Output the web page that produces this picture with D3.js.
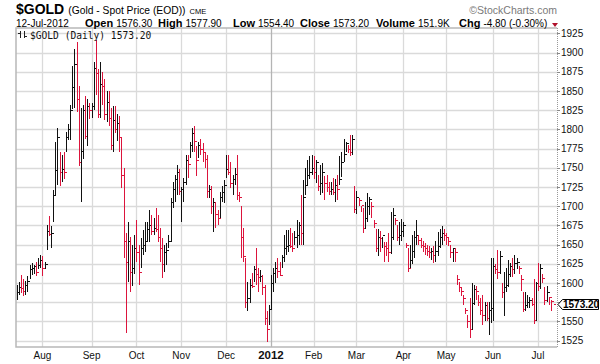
<!DOCTYPE html>
<html>
<head>
<meta charset="utf-8">
<script src="https://cdn.jsdelivr.net/npm/d3@7"></script>
<style>
  html, body { margin: 0; padding: 0; background: #fff; }
  svg { display: block; font-family: "Liberation Sans", Arial, sans-serif; }
</style>
</head>
<body>
<svg id="chart" width="600" height="364"></svg>
<script>
// trading days: weekdays between these dates, minus US market holidays
const startDate = "2011-07-14";
const endDate = "2012-07-12";
const holidays = ["2011-09-05", "2011-11-24", "2011-12-26", "2012-01-02", "2012-01-16",
  "2012-02-20", "2012-04-06", "2012-05-28", "2012-07-04"];

// daily high / low / close
const highs = [
  1597, 1601, 1610, 1605, 1603, 1609, 1624, 1626, 1623, 1628, 1632, 1637,           // Jul
  1635, 1628, 1676, 1687, 1674, 1721, 1784, 1802, 1771, 1767, 1771, 1797, 1807, 1832, // Aug
  1882, 1904, 1914, 1856, 1828, 1832, 1843, 1840, 1834,
  1834, 1888, 1916, 1878, 1888, 1875, 1866, 1850, 1850, 1828, 1830, 1830, 1820, 1817, // Sep
  1790, 1750, 1665, 1680, 1660, 1650, 1663,
  1682, 1650, 1659, 1669, 1680, 1680, 1695, 1689, 1685, 1698, 1689, 1672, 1659, 1650, // Oct
  1652, 1663, 1711, 1732, 1741, 1754, 1748,
  1725, 1737, 1767, 1767, 1784, 1802, 1804, 1778, 1784, 1788, 1782, 1771, 1767, 1728, // Nov
  1726, 1711, 1706, 1695, 1719, 1726, 1734,
  1767, 1767, 1758, 1741, 1750, 1767, 1719, 1700, 1672, 1633, 1602, 1605, 1613, 1622, // Dec
  1646, 1620, 1617, 1611, 1598, 1563, 1572,
  1610, 1620, 1628, 1633, 1628, 1637, 1663, 1669, 1669, 1672, 1665, 1668, 1682, 1680, // Jan
  1715, 1734, 1750, 1760, 1765, 1767,
  1765, 1760, 1741, 1754, 1756, 1739, 1741, 1732, 1732, 1737, 1735, 1741, 1765, 1771, // Feb
  1787, 1784, 1780, 1793, 1793,
  1726, 1720, 1711, 1700, 1698, 1705, 1717, 1712, 1706, 1682, 1670, 1670, 1668, 1660, // Mar
  1654, 1654, 1665, 1693, 1698, 1685, 1676, 1680,
  1684, 1680, 1652, 1645, 1650, 1663, 1668, 1682, 1663, 1659, 1655, 1652, 1650, 1648, // Apr
  1645, 1648, 1655, 1667, 1670, 1674,
  1670, 1665, 1658, 1650, 1646, 1645, 1611, 1602, 1595, 1585, 1567, 1559, 1580, 1600, // May
  1598, 1596, 1585, 1580, 1585, 1576, 1576, 1576,
  1632, 1632, 1625, 1643, 1642, 1600, 1614, 1620, 1630, 1626, 1632, 1637, 1632, 1622, // Jun
  1610, 1589, 1589, 1585, 1582, 1580, 1605,
  1602, 1626, 1625, 1612, 1595, 1596, 1582, 1577.9                                    // Jul
];
const lows = [
  1578, 1584, 1587, 1583, 1585, 1588, 1605, 1610, 1612, 1609, 1618, 1620,
  1609, 1618, 1643, 1661, 1645, 1680, 1715, 1728, 1726, 1732, 1735, 1770, 1786, 1786,
  1826, 1828, 1823, 1752, 1706, 1761, 1787, 1778, 1813,
  1815, 1825, 1845, 1815, 1815, 1832, 1812, 1810, 1805, 1773, 1770, 1795, 1785, 1771,
  1724, 1633, 1535, 1602, 1589, 1596, 1612,
  1628, 1598, 1620, 1637, 1641, 1654, 1654, 1663, 1663, 1667, 1654, 1628, 1607, 1615,
  1624, 1646, 1654, 1698, 1706, 1715, 1715,
  1680, 1706, 1728, 1737, 1763, 1771, 1770, 1739, 1763, 1767, 1758, 1750, 1711, 1711,
  1690, 1667, 1672, 1676, 1685, 1706, 1704,
  1737, 1740, 1724, 1715, 1728, 1708, 1706, 1633, 1628, 1568, 1563, 1574, 1594, 1602,
  1598, 1589, 1602, 1585, 1546, 1523, 1546,
  1565, 1589, 1600, 1607, 1609, 1620, 1628, 1637, 1640, 1646, 1640, 1650, 1645, 1650,
  1650, 1650, 1715, 1728, 1735, 1741,
  1735, 1730, 1720, 1715, 1717, 1708, 1719, 1715, 1715, 1715, 1706, 1708, 1728, 1738,
  1758, 1771, 1769, 1765, 1767, 1691,
  1690, 1700, 1693, 1665, 1670, 1680, 1689, 1685, 1672, 1640, 1635, 1640, 1646, 1628,
  1635, 1628, 1638, 1656, 1675, 1655, 1650, 1655,
  1660, 1645, 1615, 1620, 1625, 1633, 1650, 1650, 1646, 1640, 1637, 1635, 1633, 1630,
  1626, 1628, 1635, 1646, 1650, 1655,
  1650, 1648, 1633, 1628, 1628, 1598, 1589, 1583, 1572, 1560, 1541, 1528, 1539, 1572,
  1578, 1570, 1559, 1546, 1550, 1550, 1533, 1548,
  1550, 1612, 1605, 1612, 1580, 1557, 1588, 1595, 1608, 1608, 1612, 1618, 1612, 1590,
  1562, 1563, 1568, 1568, 1570, 1547, 1550,
  1590, 1592, 1600, 1572, 1575, 1572, 1563, 1554.4
];
const closes = [
  1588, 1595, 1593, 1590, 1598, 1603, 1618, 1620, 1622, 1615, 1624, 1630,
  1620, 1625, 1668, 1664, 1665, 1715, 1747, 1790, 1745, 1748, 1745, 1790, 1800, 1825,
  1855, 1885, 1840, 1757, 1772, 1825, 1792, 1830, 1825,
  1830, 1880, 1873, 1820, 1859, 1856, 1820, 1835, 1815, 1780, 1812, 1800, 1808, 1790,
  1740, 1655, 1628, 1655, 1615, 1620, 1645,
  1640, 1615, 1645, 1650, 1655, 1670, 1675, 1668, 1672, 1670, 1660, 1645, 1625, 1640,
  1643, 1655, 1705, 1722, 1735, 1745, 1720,
  1722, 1732, 1760, 1755, 1780, 1795, 1785, 1760, 1780, 1775, 1770, 1762, 1720, 1722,
  1700, 1705, 1690, 1685, 1712, 1718, 1728,
  1748, 1745, 1730, 1735, 1742, 1715, 1712, 1660, 1635, 1575, 1580, 1598, 1596, 1618,
  1612, 1608, 1609, 1595, 1555, 1540, 1566,
  1600, 1613, 1620, 1616, 1610, 1634, 1645, 1648, 1650, 1648, 1645, 1660, 1662, 1675,
  1665, 1712, 1728, 1740, 1745, 1750,
  1745, 1758, 1726, 1730, 1745, 1730, 1725, 1720, 1722, 1718, 1728, 1722, 1735, 1758,
  1768, 1782, 1775, 1770, 1788, 1696,
  1712, 1708, 1702, 1672, 1685, 1700, 1710, 1700, 1678, 1645, 1660, 1658, 1662, 1648,
  1645, 1640, 1660, 1688, 1682, 1660, 1662, 1668,
  1676, 1650, 1620, 1630, 1642, 1660, 1662, 1656, 1650, 1648, 1645, 1642, 1640, 1642,
  1636, 1642, 1648, 1660, 1665, 1662,
  1660, 1655, 1640, 1645, 1640, 1605, 1595, 1590, 1580, 1565, 1550, 1540, 1574, 1592,
  1590, 1575, 1565, 1558, 1572, 1555, 1565, 1568,
  1622, 1618, 1614, 1635, 1588, 1595, 1598, 1612, 1622, 1618, 1626, 1628, 1620, 1605,
  1566, 1572, 1575, 1578, 1573, 1552, 1600,
  1596, 1619, 1606, 1578, 1589, 1582, 1577, 1573.2
];

const yTicks = [1525, 1550, 1575, 1600, 1625, 1650, 1675, 1700, 1725, 1750, 1775,
  1800, 1825, 1850, 1875, 1900, 1925];
const monthLabels = ["Aug", "Sep", "Oct", "Nov", "Dec", "2012", "Feb", "Mar", "Apr", "May", "Jun", "Jul"];

const lastClose = "1573.20";
const quote = [
  ["Open", "1576.30"], ["High", "1577.90"], ["Low", "1554.40"],
  ["Close", "1573.20"], ["Volume", "151.9K"], ["Chg", "-4.80 (-0.30%)"]
];
const quoteX = [85, 158, 233, 300, 376, 459];

const upColor = "#111111";
const downColor = "#dc143c";

const svg = d3.select("#chart");
const plot = { left: 16, top: 28, right: 557, bottom: 347 };

const parse = d3.timeParse("%Y-%m-%d");
const fmt = d3.timeFormat("%Y-%m-%d");
const dates = d3.timeDay.range(parse(startDate), d3.timeDay.offset(parse(endDate), 1))
  .filter(d => d.getDay() !== 0 && d.getDay() !== 6 && !holidays.includes(fmt(d)));

if (dates.length !== closes.length) console.warn("dates/closes mismatch", dates.length, closes.length);

const bars = dates.map((d, i) => ({
  key: fmt(d),
  date: d,
  high: highs[i],
  low: lows[i],
  close: closes[i],
  up: i === 0 ? true : closes[i] >= closes[i - 1]
}));

const x = d3.scalePoint()
  .domain(bars.map(d => d.key))
  .range([16.8, 16.8 + 2.136 * (bars.length - 1)]);

const y = d3.scaleLinear().domain([1525, 1925]).range([340.7, 33.3]);

// first trading day of every month -> vertical grid + label
const monthStarts = bars.filter((d, i) => i > 0 && d.date.getMonth() !== bars[i - 1].date.getMonth());

// --- grid ---
const grid = svg.append("g");
grid.selectAll("line.h")
  .data(yTicks)
  .join("line")
  .attr("x1", plot.left).attr("x2", plot.right)
  .attr("y1", d => Math.round(y(d)) + 0.5)
  .attr("y2", d => Math.round(y(d)) + 0.5)
  .attr("stroke", "#dadada")
  .attr("stroke-width", 1.3);

grid.selectAll("line.v")
  .data(monthStarts)
  .join("line")
  .attr("x1", d => Math.round(x(d.key)) + 0.5)
  .attr("x2", d => Math.round(x(d.key)) + 0.5)
  .attr("y1", plot.top).attr("y2", plot.bottom)
  .attr("stroke", d => d.date.getMonth() === 0 ? "#b4b4b4" : "#dadada")
  .attr("stroke-width", 1.3);

// frame
svg.append("path")
  .attr("d", `M${plot.right},${plot.top}H${plot.left}V${plot.bottom}H${plot.right}`)
  .attr("fill", "none")
  .attr("stroke", "#b8b8b8")
  .attr("stroke-width", 1.5);

// right axis: dotted line, small ticks, labels
svg.append("line")
  .attr("x1", plot.right + 0.5).attr("x2", plot.right + 0.5)
  .attr("y1", plot.top).attr("y2", plot.bottom)
  .attr("stroke", "#999")
  .attr("stroke-dasharray", "1,1");

const py = Math.round(y(+lastClose));
// the last-price box hides the tick label it sits on
const shownTicks = yTicks.filter(t => Math.abs(y(t) - py) > 8);

const yAxis = svg.append("g");
yAxis.selectAll("line")
  .data(yTicks)
  .join("line")
  .attr("x1", plot.right).attr("x2", plot.right + 3)
  .attr("y1", d => Math.round(y(d)) + 0.5)
  .attr("y2", d => Math.round(y(d)) + 0.5)
  .attr("stroke", "#888");

yAxis.selectAll("text")
  .data(shownTicks)
  .join("text")
  .attr("x", 561)
  .attr("y", d => y(d))
  .attr("dy", "0.36em")
  .style("font-size", "10px")
  .attr("fill", "#111")
  .text(d => d);

// x labels
svg.append("g")
  .selectAll("text")
  .data(monthStarts)
  .join("text")
  .attr("x", d => x(d.key))
  .attr("y", 359)
  .attr("text-anchor", "middle")
  .style("font-size", (d, i) => monthLabels[i] === "2012" ? "11.5px" : "10px")
  .style("font-weight", (d, i) => monthLabels[i] === "2012" ? "bold" : "normal")
  .attr("fill", "#111")
  .text((d, i) => monthLabels[i]);

// --- HLC bars ---
const barG = svg.append("g").attr("shape-rendering", "crispEdges");
const bar = barG.selectAll("g")
  .data(bars)
  .join("g")
  .attr("fill", d => d.up ? upColor : downColor);

bar.append("rect")
  .attr("x", d => Math.round(x(d.key)))
  .attr("y", d => Math.round(y(d.high)))
  .attr("width", 1)
  .attr("height", d => Math.max(2, Math.round(y(d.low)) - Math.round(y(d.high))));

bar.append("rect")
  .attr("x", d => Math.round(x(d.key)) + 1)
  .attr("y", d => Math.round(y(d.close)))
  .attr("width", 2)
  .attr("height", 1);

// --- last price marker ---
svg.append("path")
  .attr("d", `M558,${py + 0.5}L562.5,${py - 4.5}H598.5V${py + 5.5}H562.5Z`)
  .attr("fill", "#fff")
  .attr("stroke", "#000");
svg.append("text")
  .attr("x", 563)
  .attr("y", py + 0.5)
  .attr("dy", "0.36em")
  .style("font-size", "10px")
  .style("font-weight", "bold")
  .text(lastClose);

// --- legend inside plot ---
const icon = svg.append("g").attr("shape-rendering", "crispEdges").attr("fill", "#222");
icon.append("rect").attr("x", 20).attr("y", 31).attr("width", 1).attr("height", 7);
icon.append("rect").attr("x", 18).attr("y", 33).attr("width", 2).attr("height", 1);
icon.append("rect").attr("x", 24).attr("y", 31).attr("width", 1).attr("height", 7);
icon.append("rect").attr("x", 25).attr("y", 36).attr("width", 2).attr("height", 1);
svg.append("text")
  .attr("x", 30)
  .attr("y", 38.5)
  .style("font-family", "'DejaVu Sans Mono', monospace")
  .style("font-size", "9.6px")
  .attr("fill", "#111")
  .text(`$GOLD (Daily) ${lastClose}`);

// --- header ---
const title = svg.append("text").attr("x", 16).attr("y", 14).attr("fill", "#000");
title.append("tspan").style("font-size", "14px").style("font-weight", "bold").text("$GOLD");
title.append("tspan").attr("dx", 4).style("font-size", "10.3px").text("(Gold - Spot Price (EOD))");
title.append("tspan").attr("dx", 4).style("font-size", "7.5px").text("CME");

svg.append("text")
  .attr("x", plot.right)
  .attr("y", 14)
  .attr("text-anchor", "end")
  .style("font-size", "10.5px")
  .attr("fill", "#7a7a7a")
  .text("\u00A9StockCharts.com");

svg.append("text")
  .attr("x", 16).attr("y", 26.5)
  .style("font-size", "10px")
  .text("12-Jul-2012");

quote.forEach(([label, value], i) => {
  const t = svg.append("text").attr("x", quoteX[i]).attr("y", 26.5);
  t.append("tspan").style("font-size", "11px").style("font-weight", "bold").text(label);
  t.append("tspan").attr("dx", 3).style("font-size", "10px").text(value);
});

svg.append("path")
  .attr("d", "M552,23H558L555,27Z")
  .attr("fill", "#b0102a");
</script>
</body>
</html>
